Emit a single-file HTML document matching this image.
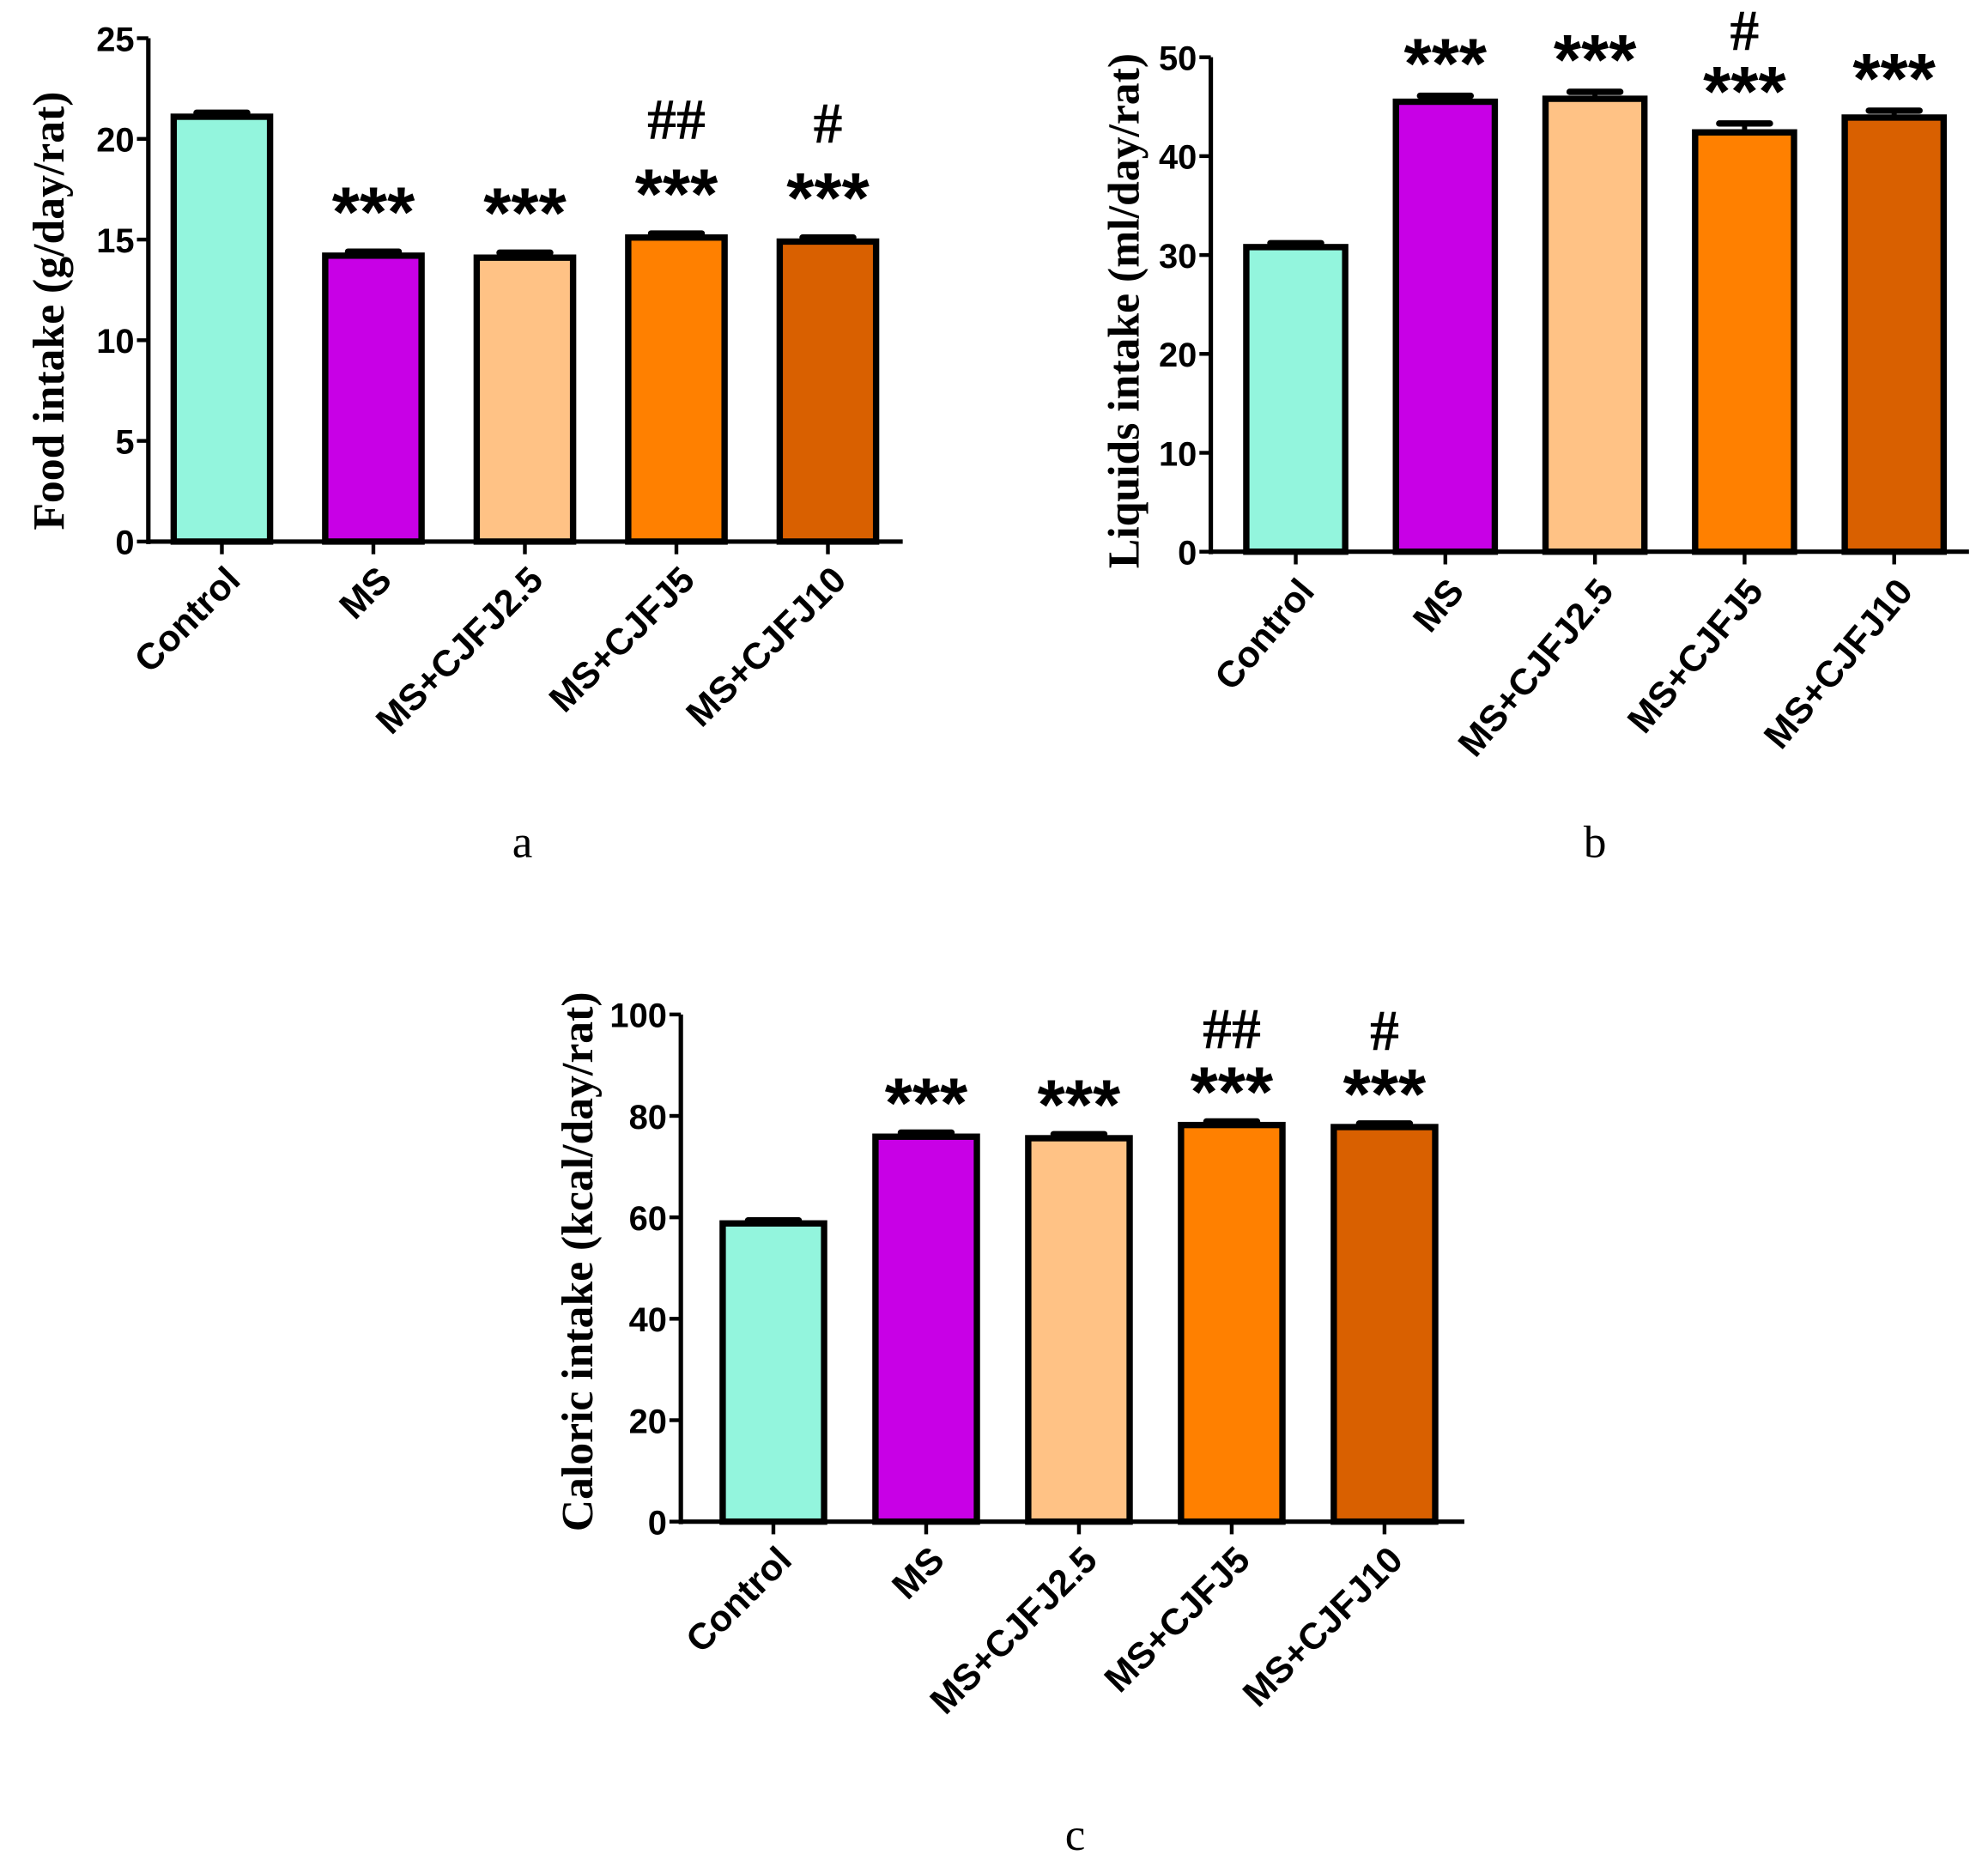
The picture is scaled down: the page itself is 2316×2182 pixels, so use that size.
<!DOCTYPE html>
<html><head><meta charset="utf-8"><style>
html,body{margin:0;padding:0;background:#fff;}
svg{display:block;}
.tick{font-family:"Liberation Sans",sans-serif;font-weight:bold;font-size:27px;}
.cat{font-family:"Liberation Sans",sans-serif;font-weight:bold;font-size:29px;}
.ytitle{font-family:"Liberation Serif",serif;font-weight:bold;font-size:35px;}
.sig{font-family:"Liberation Sans",sans-serif;font-size:56px;font-weight:bold;}
.hash{font-family:"Liberation Serif",serif;font-size:46px;font-weight:bold;}
.plabel{font-family:"Liberation Serif",serif;font-size:36px;}
</style></head><body>
<svg id="fig" width="2316" height="2182" viewBox="0 0 1568 1477" xmlns="http://www.w3.org/2000/svg">
<rect width="1568" height="1477" fill="#fff"/>
</svg>
<script>
const categories = ["Control","MS","MS+CJFJ2.5","MS+CJFJ5","MS+CJFJ10"];
const colors = ["#93F5DD","#C800E6","#FFC285","#FF8000","#D96000"];
const foodValues = [21.1,14.2,14.1,15.1,14.9];
const foodErrors = [0.2,0.2,0.25,0.2,0.2];
const foodTicks = [0,5,10,15,20,25];
const foodStarShow = [false,true,true,true,true];
const foodHash = ["","","","##","#"];
const liquidValues = [30.8,45.5,45.8,42.4,43.9];
const liquidErrors = [0.4,0.6,0.7,0.9,0.7];
const liquidTicks = [0,10,20,30,40,50];
const liquidStarShow = [false,true,true,true,true];
const liquidHash = ["","","","#",""];
const calValues = [58.8,75.9,75.6,78.2,77.8];
const calErrors = [0.6,0.8,0.8,0.7,0.7];
const calTicks = [0,20,40,60,80,100];
const calStarShow = [false,true,true,true,true];
const calHash = ["","","","##","#"];

const NS="http://www.w3.org/2000/svg";
const svg=document.getElementById('fig');
function mk(tag,attrs,parent,text){const e=document.createElementNS(NS,tag);for(const k in attrs)e.setAttribute(k,attrs[k]);if(text!==undefined)e.textContent=text;(parent||svg).appendChild(e);return e;}

function panel(p){
  const g=mk('g',{});
  
  
  const ymax=p.ticks[p.ticks.length-1];
  const y=v=>p.y0-(v/ymax)*(p.y0-p.yTop);
  const x=i=>p.x0+p.firstOff+i*p.step;
  p.values.forEach((v,i)=>{
    const cx=x(i),top=y(v),te=y(v+p.errors[i]);
    const eb=mk('line',{x1:cx-20,x2:cx+20,y1:te,y2:te,stroke:'#000','stroke-width':5,'stroke-linecap':'round'},g);
    
    
    mk('line',{x1:cx,x2:cx,y1:te,y2:top,stroke:'#000','stroke-width':4},g);
    const r=mk('rect',{x:cx-p.bw/2,y:top,width:p.bw,height:p.y0-top,fill:colors[i],stroke:'#000','stroke-width':5},g);
    
    
    let sc=te-p.gap;
    if(p.starShow[i]){
      const s=mk('text',{x:cx,y:sc+32,'text-anchor':'middle',class:'sig'},g,'***');
      
      
      sc-=p.hgap;
    }
    if(p.hash[i]){
      const h=mk('text',{x:cx,y:sc+16,'text-anchor':'middle',class:'hash'},g,p.hash[i]);
      
      
    }
    mk('line',{x1:cx,x2:cx,y1:p.y0,y2:p.y0+10,stroke:'#000','stroke-width':3},g);
    const t=mk('text',{x:0,y:0,'text-anchor':'end',class:'cat',transform:`translate(${cx+16},${p.y0+32}) rotate(${p.rot})`},g,categories[i]);
    
    
  });
  const ya=mk('line',{x1:p.x0,x2:p.x0,y1:p.yTop,y2:p.y0+2,stroke:'#000','stroke-width':3.5},g);
  
  
  const xa=mk('line',{x1:p.x0,x2:p.xEnd,y1:p.y0,y2:p.y0,stroke:'#000','stroke-width':3.5},g);
  
  
  p.ticks.forEach(tv=>{
    const ty=y(tv);
    mk('line',{x1:p.x0-9,x2:p.x0,y1:ty,y2:ty,stroke:'#000','stroke-width':3},g);
    const tl=mk('text',{x:p.x0-11,y:ty+10,'text-anchor':'end',class:'tick'},g,String(tv));
    
    
  });
  const yt=mk('text',{x:0,y:0,'text-anchor':'middle',class:'ytitle',transform:`translate(${p.titleX},${p.titleY}) rotate(-90)`},g,p.title);
  
  
  const pl=mk('text',{x:p.lx,y:p.ly,'text-anchor':'middle',class:'plabel'},g,p.letter);
  
  
}

panel({name:'panel-a-food-intake',values:foodValues,errors:foodErrors,ticks:foodTicks,starShow:foodStarShow,hash:foodHash,
  x0:117,xEnd:712,y0:427,yTop:30,firstOff:58,step:119.5,bw:76,gap:44,hgap:47,rot:-45,title:'Food intake (g/day/rat)',titleX:50,titleY:245,lx:412,ly:676,letter:'a'});
panel({name:'panel-b-liquids-intake',values:liquidValues,errors:liquidErrors,ticks:liquidTicks,starShow:liquidStarShow,hash:liquidHash,
  x0:955,xEnd:1553,y0:435,yTop:45,firstOff:67,step:118,bw:78,gap:38,hgap:36,rot:-50,title:'Liquids intake (ml/day/rat)',titleX:898,titleY:245,lx:1258,ly:676,letter:'b'});
panel({name:'panel-c-caloric-intake',values:calValues,errors:calErrors,ticks:calTicks,starShow:calStarShow,hash:calHash,
  x0:537,xEnd:1155,y0:1200,yTop:800,firstOff:73,step:120.5,bw:80,gap:36,hgap:38,rot:-45,title:'Caloric intake (kcal/day/rat)',titleX:467,titleY:995,lx:848,ly:1459,letter:'c'});
</script>
</body></html>
